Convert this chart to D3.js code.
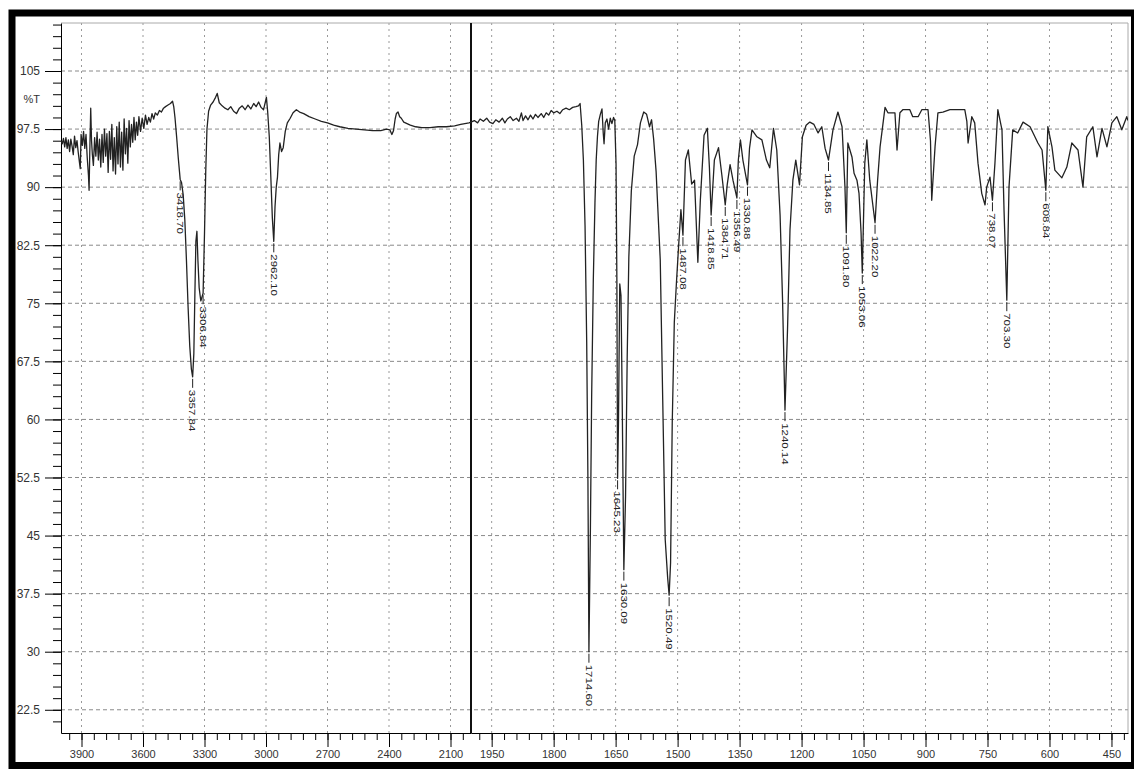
<!DOCTYPE html>
<html>
<head>
<meta charset="utf-8">
<script src="https://cdnjs.cloudflare.com/ajax/libs/d3/7.8.5/d3.min.js"></script>
<style>
  html, body { margin: 0; padding: 0; background: #fff; }
  svg { display: block; font-family: "Liberation Sans", Arial, sans-serif; }
  .tick text { fill: #333; }
</style>
</head>
<body>
<svg id="chart" width="1134" height="769"></svg>
<script>
// %T spectrum, 4000-2000 cm-1 (compressed part)
const spectrumHigh = [
  [4000,96.0],[3994,95.6],[3988,96.3],[3982,95.2],[3976,96.4],[3970,95.0],[3964,96.1],[3958,94.6],
  [3952,96.2],[3946,95.3],[3940,94.2],[3934,96.6],[3928,95.1],[3922,96.0],[3916,94.5],[3910,93.2],
  [3906,92.4],[3902,96.8],[3896,95.4],[3890,97.2],[3884,95.0],[3878,96.8],[3872,93.8],[3866,91.5],
  [3863,89.6],[3859,95.3],[3855,100.2],[3851,96.0],[3847,94.2],[3842,92.8],[3836,96.4],[3830,94.0],
  [3824,97.1],[3818,93.5],[3812,96.2],[3806,92.6],[3800,96.8],[3794,93.2],[3788,97.5],[3782,94.0],
  [3776,96.9],[3770,91.9],[3764,97.2],[3758,93.6],[3752,98.1],[3746,92.1],[3740,96.4],[3734,91.7],
  [3728,97.8],[3722,93.0],[3716,98.4],[3710,92.6],[3704,97.1],[3698,92.2],[3692,98.8],[3686,94.3],
  [3680,97.6],[3674,93.1],[3668,98.6],[3662,95.2],[3656,98.1],[3650,95.8],[3644,99.0],[3638,96.1],
  [3632,98.4],[3626,96.7],[3620,99.1],[3612,97.2],[3604,98.9],[3596,97.6],[3588,99.3],[3580,98.1],
  [3572,99.0],[3564,98.4],[3556,99.5],[3548,98.8],[3540,99.6],[3530,99.3],[3520,99.9],[3510,99.7],
  [3500,100.2],[3490,100.4],[3478,100.6],[3466,100.8],[3456,101.1],[3450,100.4],[3444,99.0],[3436,96.5],
  [3428,93.8],[3422,92.0],[3418.70,91.0],[3412,90.6],[3404,89.0],[3396,85.8],[3388,80.5],[3380,74.5],
  [3372,69.5],[3364,66.5],[3357.84,65.5],[3352,68.5],[3347,76.0],[3342,83.0],[3337,84.3],[3332,80.5],
  [3326,77.0],[3318,75.3],[3306.84,76.3],[3300,84.0],[3294,92.0],[3288,97.5],[3280,99.8],[3270,100.6],
  [3258,101.0],[3246,101.6],[3238,102.1],[3228,100.9],[3214,100.5],[3200,100.2],[3186,100.0],[3172,100.4],
  [3158,99.8],[3144,99.5],[3130,100.2],[3116,100.5],[3102,100.0],[3088,100.6],[3074,100.1],[3060,100.8],
  [3048,100.4],[3036,101.0],[3024,100.3],[3012,100.0],[3004,100.9],[2998,101.6],[2992,99.8],[2984,96.5],
  [2976,91.0],[2969,86.0],[2962.10,83.0],[2956,87.5],[2950,90.0],[2944,91.3],[2938,94.2],[2932,95.7],
  [2924,94.6],[2916,95.1],[2906,97.2],[2896,98.3],[2882,98.9],[2868,99.6],[2852,100.0],[2836,99.7],
  [2816,99.5],[2790,99.1],[2760,98.8],[2730,98.5],[2700,98.3],[2670,98.0],[2640,97.8],[2600,97.6],
  [2560,97.5],[2520,97.4],[2480,97.3],[2440,97.3],[2412,97.5],[2396,97.4],[2386,96.8],[2378,97.3],
  [2370,98.8],[2364,99.5],[2356,99.7],[2348,99.1],[2340,98.9],[2328,98.4],[2312,98.2],[2296,98.0],
  [2270,97.8],[2240,97.7],[2200,97.7],[2160,97.8],[2120,97.8],[2080,97.9],[2050,98.1],[2030,98.2],
  [2010,98.3]
];

// %T spectrum, 2000-410 cm-1
const spectrumLow = [
  [2000,98.4],[1992,98.6],[1984,98.3],[1978,98.8],[1970,98.5],[1962,98.9],[1955,98.4],[1947,98.2],
  [1940,98.7],[1932,98.4],[1924,98.9],[1918,98.3],[1912,98.8],[1905,99.1],[1898,98.6],[1890,98.9],
  [1884,98.5],[1878,99.6],[1874,98.6],[1868,99.2],[1862,98.7],[1856,99.3],[1850,98.8],[1844,99.4],
  [1838,99.0],[1830,99.5],[1824,99.0],[1818,99.6],[1812,99.3],[1806,99.9],[1800,99.6],[1792,99.8],
  [1785,99.5],[1778,100.0],[1770,100.2],[1762,100.0],[1754,100.3],[1746,100.4],[1740,100.5],[1736,100.8],
  [1732,98.0],[1728,93.5],[1724,85.0],[1720,70.0],[1717,52.0],[1714.60,30.0],[1711,46.0],[1708,63.0],
  [1704,78.0],[1700,88.0],[1697,93.5],[1694,96.5],[1691,98.5],[1687,99.4],[1683,100.1],[1680,97.0],
  [1678,95.6],[1675,98.3],[1671,98.8],[1667,97.5],[1663,98.9],[1659,98.2],[1655,99.0],[1652,98.6],
  [1649,93.0],[1647,78.0],[1645.23,52.4],[1643,60.0],[1640,77.5],[1637,76.0],[1634,62.0],[1630.09,40.6],
  [1626,50.0],[1622,68.0],[1618,81.0],[1612,89.5],[1605,94.0],[1597,95.5],[1590,98.3],[1582,99.7],
  [1575,99.4],[1568,97.8],[1563,98.7],[1558,96.2],[1552,92.0],[1548,87.4],[1542,80.6],[1536,62.5],
  [1530,44.5],[1524,39.5],[1520.49,37.3],[1517,41.5],[1513,59.5],[1508,72.5],[1503,77.5],[1498,82.0],
  [1492,87.1],[1487.08,83.8],[1481,93.5],[1474,94.8],[1466,90.4],[1459,90.9],[1451,80.3],[1445,88.3],
  [1436,96.7],[1428,97.6],[1423,92.5],[1418.85,86.4],[1411,93.5],[1401,95.1],[1393,91.6],[1384.71,87.7],
  [1380,90.3],[1373,92.9],[1366,90.9],[1356.49,88.6],[1353,93.5],[1348,96.1],[1342,93.5],[1330.88,90.3],
  [1326,95.0],[1320,97.4],[1308,96.5],[1296,96.1],[1285,93.5],[1277,92.5],[1268,97.6],[1260,94.8],
  [1252,86.4],[1246,75.4],[1240.14,61.2],[1234,71.6],[1228,84.5],[1221,90.9],[1214,93.5],[1205,90.3],
  [1198,96.5],[1189,98.0],[1180,98.4],[1170,98.1],[1160,97.0],[1151,97.8],[1143,95.0],[1134.85,93.5],
  [1124,97.4],[1112,99.7],[1102,97.8],[1095,90.0],[1091.80,84.1],[1088,95.7],[1078,93.9],[1073,91.8],
  [1066,90.9],[1061,89.2],[1056,84.1],[1053.06,78.9],[1047,93.1],[1042,96.1],[1035,90.9],[1022.20,85.4],
  [1016,90.9],[1010,95.2],[998,100.3],[991,99.6],[974,99.6],[969,94.8],[962,99.6],[955,100.0],
  [938,100.0],[931,99.1],[918,99.1],[909,100.0],[894,100.0],[888,96.0],[885,88.3],[877,95.2],
  [870,99.6],[858,99.7],[841,100.0],[805,100.0],[800,98.5],[797,95.7],[788,99.1],[781,98.3],
  [773,93.1],[764,89.2],[756,87.7],[752,90.0],[744,91.3],[738.07,88.3],[732,93.1],[725,100.0],
  [715,97.4],[710,87.0],[703.30,75.4],[698,90.0],[689,97.4],[677,97.0],[664,98.4],[647,97.8],
  [628,95.7],[618,94.8],[608.84,89.6],[604,97.8],[594,95.2],[587,92.2],[570,91.2],[558,92.6],
  [546,95.7],[531,94.8],[519,90.0],[510,96.5],[495,97.8],[485,93.9],[473,97.6],[461,95.2],
  [449,98.3],[437,99.1],[425,97.4],[413,99.1],[410,98.6]
];

// picked peaks (cm-1)
const peaks = [3418.70, 3357.84, 3306.84, 2962.10, 1714.60, 1645.23, 1630.09, 1520.49, 1487.08,
  1418.85, 1384.71, 1356.49, 1330.88, 1240.14, 1134.85, 1091.80, 1053.06, 1022.20, 738.07, 703.30, 608.84];

const yMajorTicks = [22.5, 30, 37.5, 45, 52.5, 60, 67.5, 75, 82.5, 90, 97.5, 105];
const xMajorHigh = [3900, 3600, 3300, 3000, 2700, 2400, 2100];
const xMajorLow = [1950, 1800, 1650, 1500, 1350, 1200, 1050, 900, 750, 600, 450];

const width = 1134, height = 769;
const plot = { left: 61, right: 1128, top: 23, bottom: 733, brk: 471 };

const svg = d3.select("#chart");

const xHigh = d3.scaleLinear().domain([4000, 2000]).range([plot.left, plot.brk]);
const xLow = d3.scaleLinear().domain([2000, 410]).range([plot.brk, plot.right]);
const y = d3.scaleLinear().domain([19.5, 111.2]).range([plot.bottom, plot.top]);
function xPos(wn) { return wn >= 2000 ? xHigh(wn) : xLow(wn); }

// grid
svg.append("g").selectAll("line")
  .data(yMajorTicks).enter().append("line")
  .attr("x1", plot.left).attr("x2", plot.right)
  .attr("y1", function (d) { return y(d); }).attr("y2", function (d) { return y(d); })
  .attr("stroke", "#8a8a8a").attr("stroke-width", 1).attr("stroke-dasharray", "4,3");

svg.append("g").selectAll("line")
  .data(xMajorHigh.concat(xMajorLow)).enter().append("line")
  .attr("x1", function (d) { return xPos(d); }).attr("x2", function (d) { return xPos(d); })
  .attr("y1", plot.top).attr("y2", plot.bottom)
  .attr("stroke", "#999").attr("stroke-width", 1).attr("stroke-dasharray", "2,4");

// plot box (top/right thin)
svg.append("path")
  .attr("d", `M${plot.left},${plot.top}H${plot.right}V${plot.bottom}`)
  .attr("fill", "none").attr("stroke", "#aaa").attr("stroke-width", 1);

// x axes
function bottomAxis(scale, major, minor) {
  const gMinor = svg.append("g").attr("transform", `translate(0,${plot.bottom})`)
    .call(d3.axisBottom(scale).tickValues(minor).tickSize(7).tickSizeOuter(0).tickFormat(""));
  gMinor.select(".domain").remove();
  const g = svg.append("g").attr("transform", `translate(0,${plot.bottom})`)
    .call(d3.axisBottom(scale).tickValues(major).tickSize(14).tickSizeOuter(0).tickPadding(3)
      .tickFormat(d3.format("d")));
  g.selectAll(".tick text").attr("font-size", 11);
  g.select(".domain").attr("stroke", "#000");
}
bottomAxis(xHigh, xMajorHigh, d3.range(3960, 2000, -60));
bottomAxis(xLow, xMajorLow, d3.range(1980, 410, -30));

// y axis
const gyMinor = svg.append("g").attr("transform", `translate(${plot.left},0)`)
  .call(d3.axisLeft(y).tickValues(d3.range(21, 111.1, 1.5)).tickSize(8).tickSizeOuter(0).tickFormat(""));
gyMinor.select(".domain").remove();
const gy = svg.append("g").attr("transform", `translate(${plot.left},0)`)
  .call(d3.axisLeft(y).tickValues(yMajorTicks).tickSize(16).tickSizeOuter(0).tickPadding(5)
    .tickFormat(function (d) { return String(d); }));
gy.selectAll(".tick text").attr("font-size", 12);
gy.select(".domain").attr("stroke", "#000");

svg.append("text")
  .attr("x", plot.left - 21).attr("y", 103)
  .attr("text-anchor", "end").attr("font-size", 11).attr("fill", "#333")
  .text("%T");

// break between compressed and expanded ranges
svg.append("line")
  .attr("x1", plot.brk).attr("x2", plot.brk)
  .attr("y1", plot.top).attr("y2", plot.bottom)
  .attr("stroke", "#111").attr("stroke-width", 2);

// spectrum
svg.append("clipPath").attr("id", "clip")
  .append("rect").attr("x", plot.left).attr("y", plot.top)
  .attr("width", plot.right - plot.left).attr("height", plot.bottom - plot.top);

const line = d3.line()
  .x(function (d) { return xPos(d[0]); })
  .y(function (d) { return y(d[1]); });

svg.append("path")
  .datum(spectrumHigh.concat(spectrumLow))
  .attr("clip-path", "url(#clip)")
  .attr("fill", "none")
  .attr("stroke", "#222")
  .attr("stroke-width", 1.3)
  .attr("stroke-linejoin", "round")
  .attr("d", line);

// peak labels
const allPoints = spectrumHigh.concat(spectrumLow);
function troughT(wn) {
  let best = allPoints[0];
  allPoints.forEach(function (p) {
    if (Math.abs(p[0] - wn) < Math.abs(best[0] - wn)) best = p;
  });
  return best[1];
}
const LEADER = 11;
const peakG = svg.append("g").selectAll("g")
  .data(peaks).enter().append("g")
  .attr("transform", function (d) { return `translate(${xPos(d)},${y(troughT(d))})`; });
peakG.append("line")
  .attr("x1", 0).attr("x2", 0).attr("y1", 2).attr("y2", LEADER)
  .attr("stroke", "#222").attr("stroke-width", 1);
peakG.append("text")
  .attr("transform", `translate(0,${LEADER + 2}) rotate(90) scale(1.15,0.9)`)
  .attr("dy", "0.35em")
  .attr("font-size", 10)
  .attr("fill", "#222")
  .text(function (d) { return d3.format(".2f")(d); });

// outer black frame
svg.append("rect")
  .attr("x", 12).attr("y", 13)
  .attr("width", 1122.5).attr("height", 752.5)
  .attr("fill", "none").attr("stroke", "#000").attr("stroke-width", 7);
</script>
</body>
</html>
